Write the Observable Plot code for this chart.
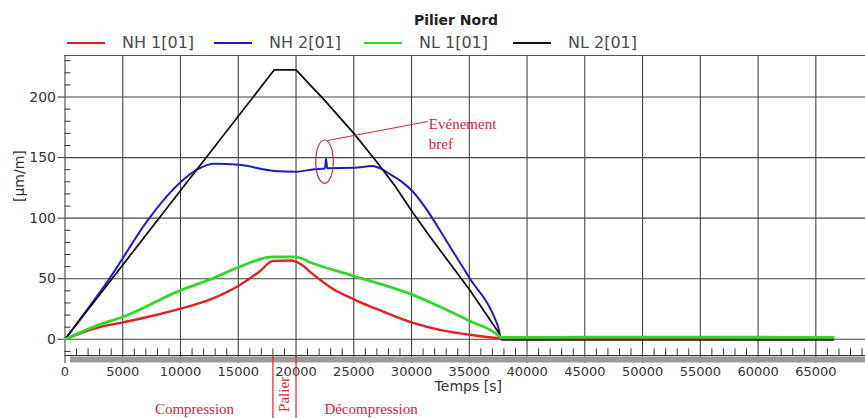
<!DOCTYPE html>
<html>
<head>
<meta charset="utf-8">
<script src="https://cdn.jsdelivr.net/npm/d3@7"></script>
<script src="https://cdn.jsdelivr.net/npm/@observablehq/plot@0.6"></script>
<style>
  body { margin: 0; background: #fff; }
  #wrap { position: relative; width: 865px; height: 418px; overflow: hidden; font-family: "DejaVu Sans", sans-serif; }
  #head { position: relative; height: 50px; }
  .title { position: absolute; left: 0; width: 912px; top: 12px; text-align: center; font-weight: bold; font-size: 14px; line-height: 16px; color: #222; }
  .item { position: absolute; top: 34px; height: 18px; display: flex; align-items: center; font-size: 16px; line-height: 18px; color: #4a4a4a; white-space: nowrap; }
  .swatch { display: inline-block; width: 38px; height: 2px; margin-right: 17px; }
  #chart svg { display: block; overflow: visible; }
</style>
</head>
<body>
<div id="wrap">
  <div id="head"></div>
  <div id="chart"></div>
</div>
<script>
// ---------- DATA ----------
const title = "Pilier Nord";
const seriesNames = ["NH 1[01]", "NH 2[01]", "NL 1[01]", "NL 2[01]"];
const seriesColors = ["#e3201f", "#1d1dc8", "#2fd82a", "#111111"];

// NH 1[01] (red)
const tNH1 = [0, 1500, 3000, 5000, 6850, 10000, 12600, 15000, 16900, 18000, 19500, 20430, 21300, 23030, 25000, 27650, 30000, 32550, 35000, 37600, 38000, 45000, 55000, 66500];
const vNH1 = [0, 5.5, 10, 14, 17.8, 25.3, 33, 44, 56.4, 64.7, 65, 62, 55, 42.6, 33, 22.5, 14, 7.6, 3.8, 1, 0.8, 0.8, 0.9, 0.8];

// NH 2[01] (blue)
const tNH2 = [0, 3840, 7300, 9000, 10040, 11490, 12930, 15090, 18120, 20000, 21590, 22500, 22600, 22700, 25050, 26600, 27360, 27940, 29090, 30100, 31690, 32550, 35090, 37170, 37580, 37700, 45000, 55000, 66500];
const vNH2 = [0, 50, 100, 120, 130, 140.5, 145, 144, 139, 138.4, 140.4, 141, 149, 141.2, 141.6, 143, 140.7, 137.5, 130.6, 122, 101.7, 88.5, 49.5, 18, 7, 0.3, 0.3, 0.3, 0.3];

// NL 1[01] (green)
const tNL1 = [0, 3100, 5000, 10000, 12600, 15000, 18000, 20000, 21300, 25000, 30000, 32550, 35000, 37600, 37700, 45000, 55000, 66500];
const vNL1 = [0, 12.5, 18.4, 40.4, 49.5, 59.4, 68, 68, 63.2, 52.2, 37.1, 26.5, 15.3, 2.5, 1.6, 1.7, 1.7, 1.6];

// NL 2[01] (black)
const tNL2 = [0, 18120, 20000, 22500, 25000, 27030, 28500, 30150, 31650, 35090, 37580, 37800, 45000, 55000, 66500];
const vNL2 = [0, 222.5, 222.5, 197, 170, 146, 127.5, 104, 84, 40, 5, -0.4, -0.4, -0.4, -0.4];

// axis ticks
const xTicks = d3.range(0, 65001, 5000);
const yTicks = [0, 50, 100, 150, 200];
const xLabel = "Temps [s]";
const yLabel = "[µm/m]";

// annotations
const phaseLabels = ["Compression", "Décompression"];
const phaseLabelT = [11212, 26494];
const palierLabel = "Palier";
const palierBounds = [18000, 20000];
const eventLabel = "Evénement\nbref";
const eventT = 22510, eventV = 146.2;

// ---------- LAYOUT ----------
const W = 865, H = 368;
const mL = 64.5, mR = 0, mT = 5, mB = 55;
const xDomain = [0, 69300];
const yDomain = [-20, 234.3];
const AXIS_Y = -13.4;      // x-axis baseline (value units)
const RED = "#e0202c";
const GRID = "#454545";

// header: title + legend
const head = document.getElementById("head");
const t = document.createElement("div");
t.className = "title"; t.textContent = title; head.appendChild(t);
const legendLeft = [67, 214, 364, 513];
seriesNames.forEach((name, i) => {
  const it = document.createElement("div");
  it.className = "item"; it.style.left = legendLeft[i] + "px";
  const sw = document.createElement("span");
  sw.className = "swatch"; sw.style.background = seriesColors[i];
  const tx = document.createElement("span"); tx.textContent = name;
  it.appendChild(sw); it.appendChild(tx); head.appendChild(it);
});

const toRows = (ts, vs) => ts.map((t, i) => ({t, v: vs[i]}));
const series = [
  {data: toRows(tNH2, vNH2), color: seriesColors[1], w: 2.0, curve: "monotone-x"},
  {data: toRows(tNL2, vNL2), color: seriesColors[3], w: 1.8, curve: "linear"},
  {data: toRows(tNH1, vNH1), color: seriesColors[0], w: 2.4, curve: "monotone-x"},
  {data: toRows(tNL1, vNL1), color: seriesColors[2], w: 2.8, curve: "monotone-x"}
];

const xMinor = d3.range(0, 69001, 1000).filter(d => d % 5000 !== 0);
const yMinor = d3.range(-10, 231, 10).filter(d => d % 50 !== 0);

const plot = Plot.plot({
  width: W, height: H,
  marginLeft: mL, marginRight: mR, marginTop: mT, marginBottom: mB,
  x: {domain: xDomain},
  y: {domain: yDomain},
  style: {fontFamily: "DejaVu Sans", fontSize: "13px", color: "#333", background: "transparent", overflow: "visible"},
  marks: [
    Plot.ruleY(yTicks, {stroke: GRID, strokeWidth: 1.1}),
    Plot.ruleX(xTicks.filter(d => d > 0), {stroke: GRID, strokeWidth: 1.1}),
    Plot.ruleY([yDomain[1]], {stroke: "#555"}),
    Plot.ruleX([0], {stroke: "#333"}),
    Plot.ruleY(yMinor, {insetRight: (W - mL - mR) - 6, stroke: "#333"}),
    Plot.ruleX(xMinor, {y1: AXIS_Y, y2: AXIS_Y + 5.5, stroke: "#333"}),
    Plot.ruleY([AXIS_Y], {stroke: "#333"}),
    Plot.ruleY([-16.7], {x1: 480, x2: xDomain[1], stroke: "#9a9a9a", strokeWidth: 6}),
    Plot.axisY({ticks: yTicks, tickSize: 7, tickPadding: 2, fontSize: 14, label: null, stroke: "#333"}),
    Plot.axisX({ticks: xTicks, tickSize: 0, tickPadding: 3, tickFormat: d3.format("d"), fontSize: 13, label: null}),
    Plot.text([xLabel], {frameAnchor: "bottom", dy: 27.5, dx: 3, fontSize: 14, fill: "#333"}),
    Plot.text([yLabel], {frameAnchor: "left", dx: -45.5, dy: -7.5, rotate: -90, fontSize: 14, fill: "#333"}),
    ...series.map(s => Plot.line(s.data, {x: "t", y: "v", stroke: s.color, strokeWidth: s.w, curve: s.curve})),
    // annotations
    Plot.ruleX(palierBounds, {y1: AXIS_Y, y2: -66, stroke: RED, strokeWidth: 1.2}),
    Plot.text(phaseLabels, {x: (d, i) => phaseLabelT[i], y: -57.5, fontFamily: "Liberation Serif", fontSize: 15, fill: RED}),
    Plot.text([palierLabel], {x: d3.mean(palierBounds), y: -45.5, rotate: -90, fontFamily: "Liberation Serif", fontSize: 15, fill: RED}),
    Plot.link([eventLabel], {x1: 22730, y1: 164.1, x2: 31390, y2: 179.8, stroke: RED, strokeWidth: 1}),
    Plot.text([eventLabel], {x: 31500, y: 170.5, textAnchor: "start", lineHeight: 1.28, fontFamily: "Liberation Serif", fontSize: 15, fill: RED})
  ]
});

// event ellipse, positioned through the plot's own scales
const sx = plot.scale("x"), sy = plot.scale("y");
const ell = document.createElementNS("http://www.w3.org/2000/svg", "ellipse");
ell.setAttribute("cx", sx.apply(eventT));
ell.setAttribute("cy", sy.apply(eventV));
ell.setAttribute("rx", 8.8);
ell.setAttribute("ry", 21.7);
ell.setAttribute("fill", "none");
ell.setAttribute("stroke", "#b83048");
ell.setAttribute("stroke-width", 1.2);
plot.appendChild(ell);

document.getElementById("chart").appendChild(plot);
</script>
</body>
</html>
